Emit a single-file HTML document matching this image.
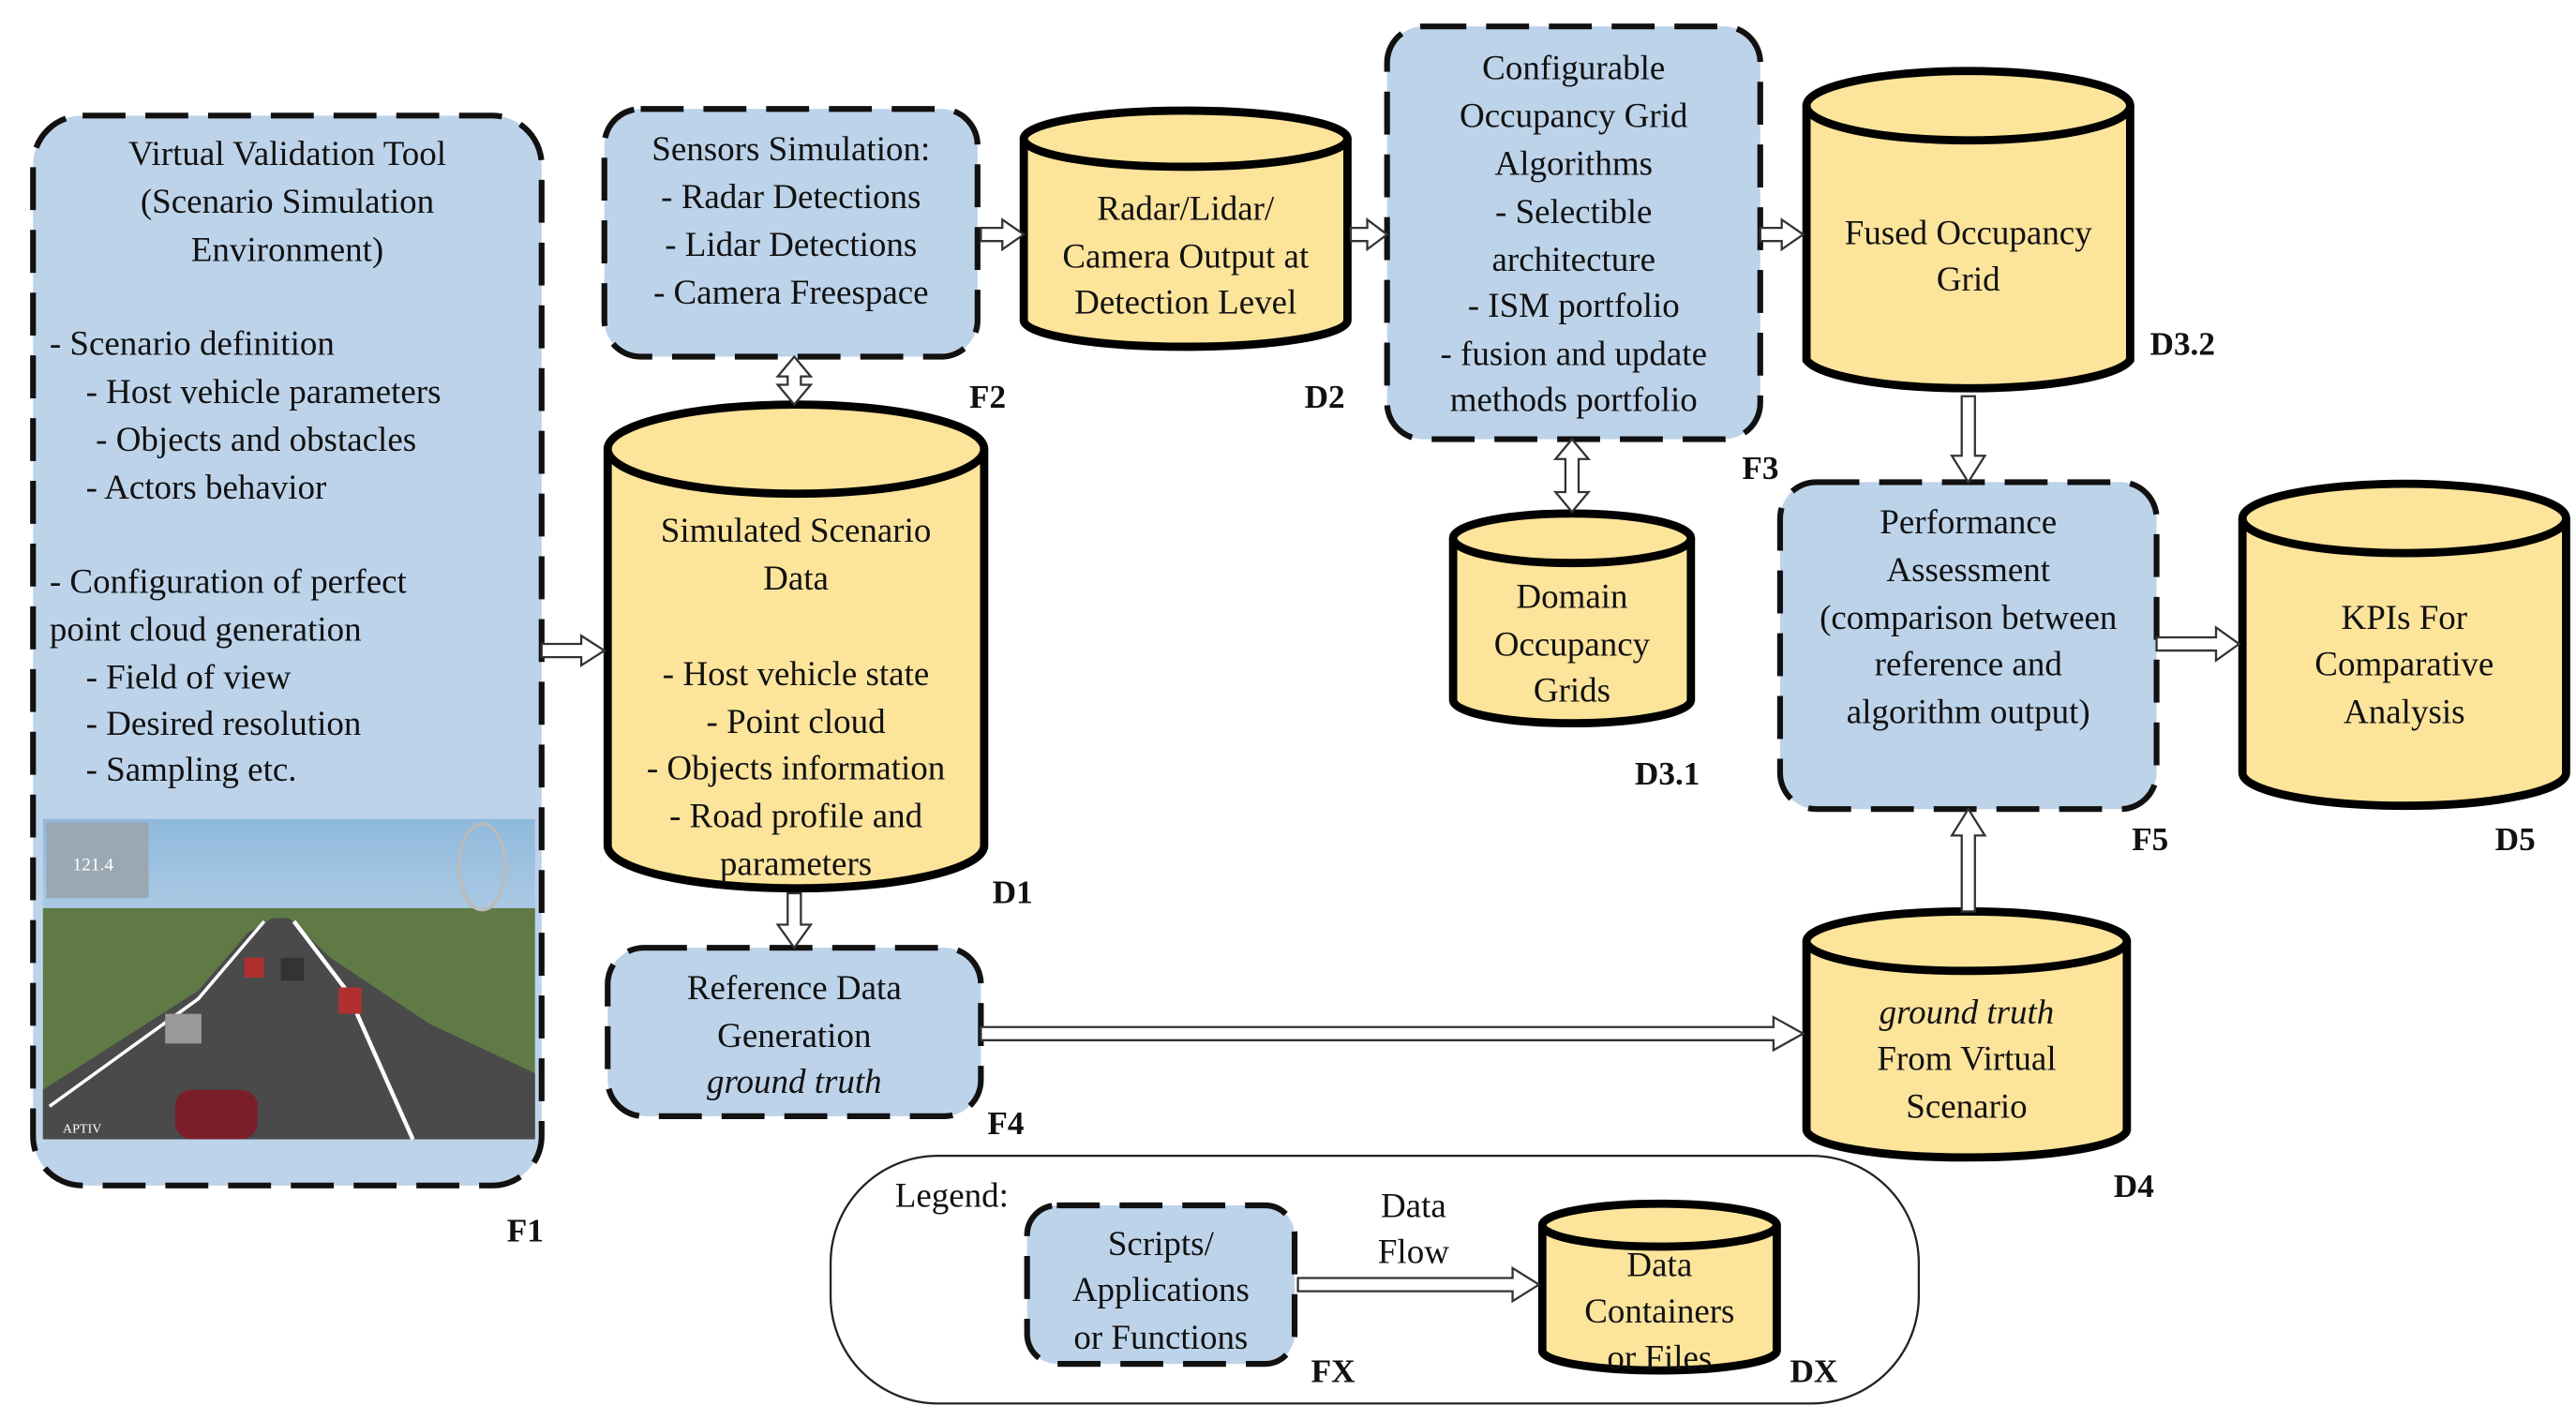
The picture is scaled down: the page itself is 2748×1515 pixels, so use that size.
<!DOCTYPE html>
<html><head><meta charset="utf-8"><style>
html,body{margin:0;padding:0;background:#fff;}
svg{display:block;}
text{font-family:"Liberation Serif",serif;font-size:21px;fill:#111;}
.c{text-anchor:middle;}
.b{font-weight:bold;font-size:20px;}
.i{font-style:italic;}
.box{fill:#bdd3ea;stroke:#111;stroke-width:3.5;stroke-dasharray:26 12;}
.cyl{fill:#fde49b;stroke:#000;stroke-width:5;}
.ar{fill:#fff;stroke:#333;stroke-width:1.3;}
</style></head><body>
<svg width="2748" height="1515" viewBox="0 0 1560 860" preserveAspectRatio="none" xmlns="http://www.w3.org/2000/svg">
<defs>
<linearGradient id="sky" x1="0" y1="0" x2="0" y2="1"><stop offset="0" stop-color="#8fb9dc"/><stop offset="1" stop-color="#eef3f7"/></linearGradient>
</defs>
<!-- F1 -->
<rect class="box" x="20" y="70" width="308" height="648" rx="30"/>
<text class="c" x="174" y="100">Virtual Validation Tool</text>
<text class="c" x="174" y="129">(Scenario Simulation</text>
<text class="c" x="174" y="158">Environment)</text>
<text x="30" y="215">- Scenario definition</text>
<text x="52" y="244">- Host vehicle parameters</text>
<text x="58" y="273">- Objects and obstacles</text>
<text x="52" y="302">- Actors behavior</text>
<text x="30" y="359">- Configuration of perfect</text>
<text x="30" y="388">point cloud generation</text>
<text x="52" y="417">- Field of view</text>
<text x="52" y="445">- Desired resolution</text>
<text x="52" y="473">- Sampling etc.</text>
<!-- image -->
<rect x="26" y="496" width="298" height="194" fill="url(#sky)"/>
<rect x="26" y="550" width="298" height="140" fill="#5f7a45"/>
<polygon points="26,660 120,600 150,565 165,556 175,556 200,580 260,620 324,650 324,690 26,690" fill="#4a4a4a"/>
<polyline points="30,670 120,605 160,558" fill="none" stroke="#fff" stroke-width="2"/>
<polyline points="178,558 210,600 250,690" fill="none" stroke="#fff" stroke-width="2.5"/>
<rect x="28" y="498" width="62" height="46" fill="#9aa8b4"/>
<text x="44" y="527" style="font-size:11px;fill:#fff">121.4</text>
<ellipse cx="292" cy="525" rx="14" ry="26" fill="none" stroke="#bbb" stroke-width="2"/>
<rect x="100" y="614" width="22" height="18" fill="#999"/>
<rect x="170" y="580" width="14" height="14" fill="#333"/>
<rect x="205" y="598" width="14" height="16" fill="#b03030"/>
<rect x="148" y="580" width="12" height="12" fill="#b03030"/>
<rect x="106" y="660" width="50" height="30" rx="10" fill="#7a1f2a"/>
<text x="38" y="686" style="font-size:8px;fill:#fff">APTIV</text>
<text class="b" x="307" y="752">F1</text>
<!-- F2 -->
<rect class="box" x="366" y="66" width="226" height="150" rx="22"/>
<text class="c" x="479" y="97">Sensors Simulation:</text>
<text class="c" x="479" y="126">- Radar Detections</text>
<text class="c" x="479" y="155">- Lidar Detections</text>
<text class="c" x="479" y="184">- Camera Freespace</text>
<text class="b" x="587" y="247">F2</text>
<!-- D2 -->
<path class="cyl" d="M620,84 L620,194 A98,16 0 0 0 816,194 L816,84"/>
<ellipse class="cyl" cx="718" cy="84" rx="98" ry="17"/>
<text class="c" x="718" y="133">Radar/Lidar/</text>
<text class="c" x="718" y="162">Camera Output at</text>
<text class="c" x="718" y="190">Detection Level</text>
<text class="b" x="790" y="247">D2</text>
<!-- F3 -->
<rect class="box" x="840" y="16" width="226" height="250" rx="22"/>
<text class="c" x="953" y="48">Configurable</text>
<text class="c" x="953" y="77">Occupancy Grid</text>
<text class="c" x="953" y="106">Algorithms</text>
<text class="c" x="953" y="135">- Selectible</text>
<text class="c" x="953" y="164">architecture</text>
<text class="c" x="953" y="192">- ISM portfolio</text>
<text class="c" x="953" y="221">- fusion and update</text>
<text class="c" x="953" y="249">methods portfolio</text>
<text class="b" x="1055" y="290">F3</text>
<!-- D3.1 -->
<path class="cyl" d="M880,326 L880,424 A72,14 0 0 0 1024,424 L1024,326"/>
<ellipse class="cyl" cx="952" cy="326" rx="72" ry="15"/>
<text class="c" x="952" y="368">Domain</text>
<text class="c" x="952" y="397">Occupancy</text>
<text class="c" x="952" y="425">Grids</text>
<text class="b" x="990" y="475">D3.1</text>
<!-- D3.2 -->
<path class="cyl" d="M1094,64 L1094,218 A99,20 0 0 0 1290,218 L1290,64"/>
<ellipse class="cyl" cx="1192" cy="64" rx="98" ry="21"/>
<text class="c" x="1192" y="148">Fused Occupancy</text>
<text class="c" x="1192" y="176">Grid</text>
<text class="b" x="1302" y="215">D3.2</text>
<!-- F5 -->
<rect class="box" x="1078" y="292" width="228" height="198" rx="22"/>
<text class="c" x="1192" y="323">Performance</text>
<text class="c" x="1192" y="352">Assessment</text>
<text class="c" x="1192" y="381">(comparison between</text>
<text class="c" x="1192" y="409">reference and</text>
<text class="c" x="1192" y="438">algorithm output)</text>
<text class="b" x="1291" y="515">F5</text>
<!-- D5 -->
<path class="cyl" d="M1358,314 L1358,468 A98,20 0 0 0 1554,468 L1554,314"/>
<ellipse class="cyl" cx="1456" cy="314" rx="98" ry="21"/>
<text class="c" x="1456" y="381">KPIs For</text>
<text class="c" x="1456" y="409">Comparative</text>
<text class="c" x="1456" y="438">Analysis</text>
<text class="b" x="1511" y="515">D5</text>
<!-- D1 -->
<path class="cyl" d="M368,272 L368,512 A114,26 0 0 0 596,512 L596,272"/>
<ellipse class="cyl" cx="482" cy="272" rx="114" ry="27"/>
<text class="c" x="482" y="328">Simulated Scenario</text>
<text class="c" x="482" y="357">Data</text>
<text class="c" x="482" y="415">- Host vehicle state</text>
<text class="c" x="482" y="444">- Point cloud</text>
<text class="c" x="482" y="472">- Objects information</text>
<text class="c" x="482" y="501">- Road profile and</text>
<text class="c" x="482" y="530">parameters</text>
<text class="b" x="601" y="547">D1</text>
<!-- F4 -->
<rect class="box" x="368" y="574" width="226" height="102" rx="22"/>
<text class="c" x="481" y="605">Reference Data</text>
<text class="c" x="481" y="634">Generation</text>
<text class="c i" x="481" y="662">ground truth</text>
<text class="b" x="598" y="687">F4</text>
<!-- D4 -->
<path class="cyl" d="M1094,570 L1094,684 A97,17 0 0 0 1288,684 L1288,570"/>
<ellipse class="cyl" cx="1191" cy="570" rx="97" ry="18"/>
<text class="c i" x="1191" y="620">ground truth</text>
<text class="c" x="1191" y="648">From Virtual</text>
<text class="c" x="1191" y="677">Scenario</text>
<text class="b" x="1280" y="725">D4</text>
<!-- Legend -->
<rect x="503" y="700" width="659" height="150" rx="65" fill="none" stroke="#222" stroke-width="1.3"/>
<text x="542" y="731">Legend:</text>
<rect class="box" x="622" y="730" width="162" height="96" rx="18"/>
<text class="c" x="703" y="760">Scripts/</text>
<text class="c" x="703" y="788">Applications</text>
<text class="c" x="703" y="817">or Functions</text>
<text class="b" x="794" y="837">FX</text>
<text class="c" x="856" y="737">Data</text>
<text class="c" x="856" y="765">Flow</text>
<path class="cyl" d="M934,742 L934,818 A71,12 0 0 0 1076,818 L1076,742"/>
<ellipse class="cyl" cx="1005" cy="742" rx="71" ry="13"/>
<text class="c" x="1005" y="773">Data</text>
<text class="c" x="1005" y="801">Containers</text>
<text class="c" x="1005" y="829">or Files</text>
<text class="b" x="1084" y="837">DX</text>
<!-- arrows -->
<polygon class="ar" points="328,390 352,390 352,385 366,394 352,403 352,398 328,398"/>
<polygon class="ar" points="594,138 607,138 607,133 620,142 607,151 607,146 594,146"/>
<polygon class="ar" points="818,138 828,138 828,133 840,142 828,151 828,146 818,146"/>
<polygon class="ar" points="1066,138 1079,138 1079,133 1092,142 1079,151 1079,146 1066,146"/>
<polygon class="ar" points="1306,386 1342,386 1342,380 1356,390 1342,400 1342,394 1306,394"/>
<polygon class="ar" points="594,622 1074,622 1074,616 1092,626 1074,636 1074,630 594,630"/>
<polygon class="ar" points="786,774 916,774 916,768 932,778 916,788 916,782 786,782"/>
<polygon class="ar" points="1188,240 1188,276 1182,276 1192,292 1202,276 1196,276 1196,240"/>
<polygon class="ar" points="1188,552 1188,506 1182,506 1192,490 1202,506 1196,506 1196,552"/>
<polygon class="ar" points="477,541 477,560 471,560 481,574 491,560 485,560 485,541"/>
<polygon class="ar" points="481,216 491,228 485,228 485,233 491,233 481,245 471,233 477,233 477,228 471,228"/>
<polygon class="ar" points="952,266 962,278 956,278 956,298 962,298 952,310 942,298 948,298 948,278 942,278"/>
</svg>
</body></html>
